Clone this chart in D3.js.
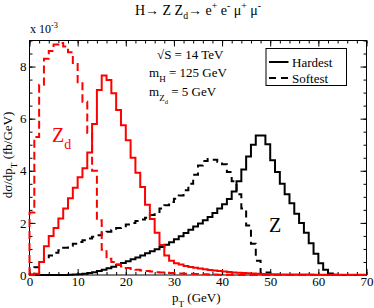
<!DOCTYPE html>
<meta charset="utf-8">
<script src="https://d3js.org/d3.v7.min.js"></script>
<style>
  body { margin: 0; background: #fff; }
  text { font-family: "Liberation Serif", "DejaVu Serif", serif; }
</style>
<div id="chart"></div>
<script>

// pT bins of 1 GeV, 0..70
var xMajor = [0, 10, 20, 30, 40, 50, 60, 70];
var yMajor = [0, 2, 4, 6, 8];

// Z_d, softest lepton (red dashed)
var zdSoftest = [2.4, 5.3, 7.3, 8.3, 8.6, 8.85, 8.9, 8.77, 8.55, 8.1,
  7.4, 6.65, 5.45, 4.0, 2.1, 0.97, 0.62, 0.5, 0.4, 0.33,
  0.27, 0.23, 0.2, 0.17, 0.15, 0.13, 0.11, 0.1, 0.09, 0.08,
  0.07, 0.06, 0.05, 0.045, 0.04, 0.03, 0.025, 0.02, 0.015, 0.01,
  0.01, 0.01, 0.005, 0, 0, 0, 0, 0, 0, 0,
  0, 0, 0, 0, 0, 0, 0, 0, 0, 0,
  0, 0, 0, 0, 0, 0, 0, 0, 0, 0];

// Z_d, hardest lepton (red solid)
var zdHardest = [0, 0.05, 0.5, 1.1, 1.5, 1.8, 2.17, 2.55, 2.95, 3.35,
  3.75, 4.1, 4.7, 5.8, 7.1, 7.66, 7.48, 6.98, 6.33, 5.75,
  5.17, 4.5, 3.92, 3.38, 2.7, 2.15, 1.62, 1.15, 0.75, 0.55,
  0.45, 0.4, 0.35, 0.31, 0.28, 0.25, 0.22, 0.19, 0.17, 0.15,
  0.13, 0.115, 0.1, 0.085, 0.075, 0.065, 0.055, 0.045, 0.04, 0.035,
  0.03, 0.025, 0.02, 0.02, 0.018, 0.015, 0.015, 0.015, 0.015, 0.012,
  0.012, 0.012, 0.01, 0.01, 0.01, 0.01, 0.01, 0.01, 0.01, 0.01];

// Z, hardest lepton (black solid)
var zHardest = [0, 0, 0, 0, 0, 0, 0, 0, 0.01, 0.02,
  0.03, 0.05, 0.08, 0.11, 0.15, 0.2, 0.26, 0.32, 0.39, 0.46,
  0.53, 0.6, 0.67, 0.75, 0.83, 0.91, 0.99, 1.07, 1.16, 1.26,
  1.37, 1.49, 1.61, 1.74, 1.86, 1.98, 2.1, 2.23, 2.38, 2.55,
  2.72, 2.92, 3.2, 3.6, 4.05, 4.55, 5.0, 5.35, 5.35, 5.02,
  4.4, 3.95, 3.5, 3.1, 2.75, 2.35, 2.0, 1.62, 1.22, 0.82,
  0.45, 0.2, 0.06, 0.01, 0, 0, 0, 0, 0, 0];

// Z, softest lepton (black dashed)
var zSoftest = [0.02, 0.3, 0.5, 0.62, 0.75, 0.85, 0.95, 1.05, 1.12, 1.2,
  1.27, 1.33, 1.4, 1.47, 1.53, 1.6, 1.66, 1.73, 1.8, 1.87,
  1.94, 2.0, 2.07, 2.13, 2.2, 2.3, 2.42, 2.55, 2.68, 2.8,
  2.93, 3.05, 3.25, 3.5, 3.85, 4.2, 4.38, 4.45, 4.42, 4.35,
  4.25, 3.95, 3.6, 3.1, 2.55, 1.9, 1.2, 0.55, 0.05, 0.1,
  0.02, 0, 0, 0, 0, 0, 0, 0, 0, 0,
  0, 0, 0, 0, 0, 0, 0, 0, 0, 0];

var width = 374, height = 308;

var svg = d3.select("#chart")
  .append("svg")
    .attr("width", width)
    .attr("height", height);

var x = d3.scaleLinear().domain([0, 70]).range([29.5, 366.5]);
var y = d3.scaleLinear().domain([0, 9]).range([275, 40.5]);

var xMinor = d3.range(0, 71, 2);
var yMinor = d3.range(0, 9.01, 0.5);

// frame
svg.append("rect")
  .attr("x", x(0)).attr("y", y(9))
  .attr("width", x(70) - x(0)).attr("height", y(0) - y(9))
  .attr("fill", "none").attr("stroke", "#000").attr("stroke-width", 1);

function styleAxis(g) {
  g.select(".domain").remove();
  g.selectAll("line").attr("stroke", "#000");
  g.selectAll("text").style("font-family", "Liberation Serif").style("font-size", "13px").attr("fill", "#000");
}

// x axis bottom & top
svg.append("g").attr("transform", "translate(0," + y(0) + ")")
  .call(d3.axisBottom(x).tickValues(xMinor).tickSize(-3).tickFormat("")).call(styleAxis);
svg.append("g").attr("transform", "translate(0," + y(0) + ")")
  .call(d3.axisBottom(x).tickValues(xMajor).tickSize(-6).tickPadding(2).tickFormat(d3.format("d"))).call(styleAxis);
svg.append("g").attr("transform", "translate(0," + y(9) + ")")
  .call(d3.axisTop(x).tickValues(xMinor).tickSize(-3).tickFormat("")).call(styleAxis);
svg.append("g").attr("transform", "translate(0," + y(9) + ")")
  .call(d3.axisTop(x).tickValues(xMajor).tickSize(-6).tickFormat("")).call(styleAxis);

// y axis left & right
svg.append("g").attr("transform", "translate(" + x(0) + ",0)")
  .call(d3.axisLeft(y).tickValues(yMinor).tickSize(-3).tickFormat("")).call(styleAxis);
svg.append("g").attr("transform", "translate(" + x(0) + ",0)")
  .call(d3.axisLeft(y).tickValues(yMajor).tickSize(-6).tickPadding(3).tickFormat(d3.format("d"))).call(styleAxis);
svg.append("g").attr("transform", "translate(" + x(70) + ",0)")
  .call(d3.axisRight(y).tickValues(yMinor).tickSize(-3).tickFormat("")).call(styleAxis);
svg.append("g").attr("transform", "translate(" + x(70) + ",0)")
  .call(d3.axisRight(y).tickValues(yMajor).tickSize(-6).tickFormat("")).call(styleAxis);

// histograms as step lines
function steps(vals) {
  var pts = [[0, 0]];
  vals.forEach(function(v, i) { pts.push([i, v]); pts.push([i + 1, v]); });
  return pts;
}
var line = d3.line().x(function(d) { return x(d[0]); }).y(function(d) { return y(d[1]); });

var series = [
  {vals: zHardest, color: "#000", dash: null},
  {vals: zSoftest, color: "#000", dash: "7,5"},
  {vals: zdSoftest, color: "#ff0000", dash: "8,4"},
  {vals: zdHardest, color: "#ff0000", dash: null}
];
series.forEach(function(s) {
  svg.append("path")
    .attr("d", line(steps(s.vals)))
    .attr("fill", "none")
    .attr("stroke", s.color)
    .attr("stroke-width", 2)
    .attr("stroke-dasharray", s.dash);
});

// rich text helper: parts = [[text, "sub"|"sup"|"sub2"|null], ...]
function rich(px, py, parts, size, anchor, color, transform) {
  var t = svg.append("text")
    .attr("x", px).attr("y", py)
    .attr("text-anchor", anchor || "start")
    .attr("fill", color || "#000")
    .style("font-size", size + "px");
  if (transform) t.attr("transform", transform);
  var shift = 0;
  parts.forEach(function(p) {
    var target = p[1] === "sub" ? size * 0.35 : p[1] === "sub2" ? size * 0.6 : p[1] === "sup" ? -size * 0.4 : 0;
    var fs = p[1] === "sub2" ? size * 0.5 : p[1] ? size * 0.7 : size;
    t.append("tspan")
      .attr("dy", target - shift)
      .style("font-size", fs + "px")
      .text(p[0]);
    shift = target;
  });
  return t;
}

// title
rich(198, 14.5, [["H\u2192 Z Z", null], ["d", "sub"], ["\u2192 e", null], ["+", "sup"], [" e", null], ["-", "sup"],
  [" \u03bc", null], ["+", "sup"], [" \u03bc", null], ["-", "sup"]], 14, "middle");

// x 10^-3
rich(30, 33, [["x 10", null], ["-3", "sup"]], 12, "start");

// axis titles
rich(172, 302, [["p", null], ["T", "sub"], [" (GeV)", null]], 13, "start");
rich(0, 0, [["d\u03c3/dp", null], ["T", "sub"], [" (fb/GeV)", null]], 13, "middle", "#000", "translate(12,155) rotate(-90)");

// annotations
rich(157, 58.5, [["\u221aS = 14 TeV", null]], 13, "start");
rich(149, 77, [["m", null], ["H", "sub"], [" = 125 GeV", null]], 13, "start");
rich(149, 96, [["m", null], ["Z", "sub"], ["d", "sub2"], [" = 5 GeV", null]], 13, "start");

// curve labels
rich(52, 141.5, [["Z", null], ["d", "sub"]], 20, "start", "#ff0000");
rich(269, 232, [["Z", null]], 20, "start");

// legend
var lg = svg.append("g");
lg.append("rect").attr("x", 266).attr("y", 48.5).attr("width", 80.5).attr("height", 37)
  .attr("fill", "#fff").attr("stroke", "#000").attr("stroke-width", 1);
lg.append("line").attr("x1", 269).attr("x2", 288.5).attr("y1", 62).attr("y2", 62)
  .attr("stroke", "#000").attr("stroke-width", 2);
lg.append("line").attr("x1", 269).attr("x2", 288.5).attr("y1", 78).attr("y2", 78)
  .attr("stroke", "#000").attr("stroke-width", 2).attr("stroke-dasharray", "7,5");
rich(292, 66.5, [["Hardest", null]], 13, "start");
rich(292, 82.5, [["Softest", null]], 13, "start");

</script>
